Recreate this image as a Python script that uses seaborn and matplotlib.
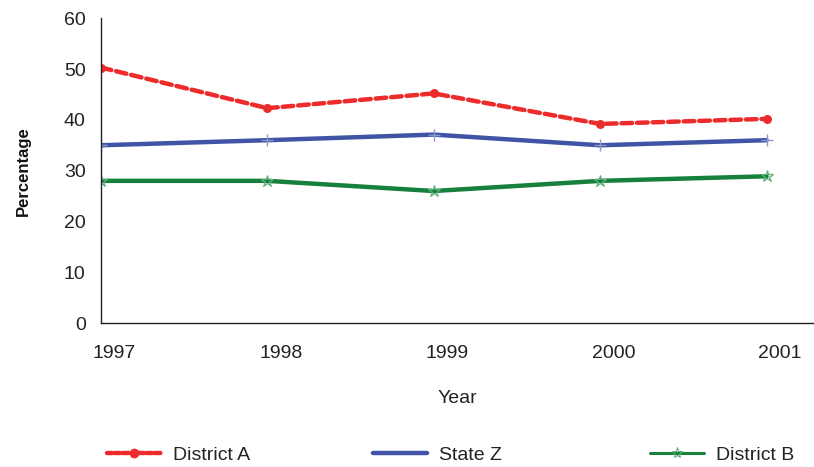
import matplotlib
matplotlib.use("Agg")
import matplotlib.pyplot as plt
from matplotlib.lines import Line2D
import seaborn as sns

years = [1997, 1998, 1999, 2000, 2001]
district_a = [50.3, 42.3, 45.2, 39.2, 40.2]
state_z = [35.0, 36.0, 37.1, 35.0, 36.0]
district_b = [28.0, 28.0, 26.0, 28.0, 28.9]
series_names = ["District A", "State Z", "District B"]
y_ticks = [0, 10, 20, 30, 40, 50, 60]

colors = {"District A": "#EE2B2B", "State Z": "#3F54A5", "District B": "#16803C"}

sns.set_theme(style="white")
plt.rcParams["font.family"] = ["Liberation Sans", "DejaVu Sans"]

fig = plt.figure(figsize=(8.14, 4.67), dpi=100)
ax = fig.add_axes([0.124, 0.308, 0.875, 0.653])

# draw order: District B, State Z, District A on top
sns.lineplot(x=years, y=district_b, color=colors["District B"], linewidth=3.2,
             marker="*", markersize=9, markerfacecolor="none",
             markeredgecolor="#5FB07A", markeredgewidth=0.9, ax=ax)
sns.lineplot(x=years, y=state_z, color=colors["State Z"], linewidth=3.2,
             marker="+", markersize=9, markeredgecolor="#8C98CC",
             markeredgewidth=1.0, ax=ax)
sns.lineplot(x=years, y=district_a, color=colors["District A"], linewidth=3.2,
             linestyle=(0, (2.4, 1.1)), dash_capstyle="round",
             marker="o", markersize=6.5, markeredgewidth=0, ax=ax)

ax.set_xlim(1997, 2001.28)
ax.set_ylim(0, 60)
ax.set_yticks(y_ticks)
ax.set_yticklabels([str(t) for t in y_ticks], fontsize=14, color="#222222")
# year labels sit slightly right of their data points, as in the reference
label_shift = 0.08
ax.set_xticks([y + label_shift for y in years])
ax.set_xticklabels([str(y) for y in years], fontsize=14, color="#222222")
ax.tick_params(axis="both", length=0)
ax.tick_params(axis="y", pad=11)
ax.tick_params(axis="x", pad=16)

for s in ["top", "right"]:
    ax.spines[s].set_visible(False)
for s in ["left", "bottom"]:
    ax.spines[s].set_color("#222222")
    ax.spines[s].set_linewidth(1.0)
ax.grid(False)

ax.set_xlabel("Year", fontsize=14, color="#222222", labelpad=20)
ax.set_ylabel("Percentage", fontsize=12, fontweight="bold", color="#111111", labelpad=24)

handles = [
    Line2D([], [], color=colors["District A"], lw=3.2, ls=(0, (1.2, 0.6)), marker="o", markersize=7,
           markeredgewidth=0, dash_capstyle="round"),
    Line2D([], [], color=colors["State Z"], lw=3.2),
    Line2D([], [], color=colors["District B"], lw=2.2, marker="*", markersize=8,
           markerfacecolor="none", markeredgecolor="#5FB07A", markeredgewidth=0.8),
]
legend_x = [107, 373, 650]
for h, name, lx in zip(handles, series_names, legend_x):
    fig.legend([h], [name], loc="center left", bbox_to_anchor=(lx / 814, 0.026),
               frameon=False, fontsize=14, handlelength=2.8, handletextpad=0.6,
               borderpad=0, borderaxespad=0, labelcolor="#222222")

fig.savefig("out.png", dpi=100)
